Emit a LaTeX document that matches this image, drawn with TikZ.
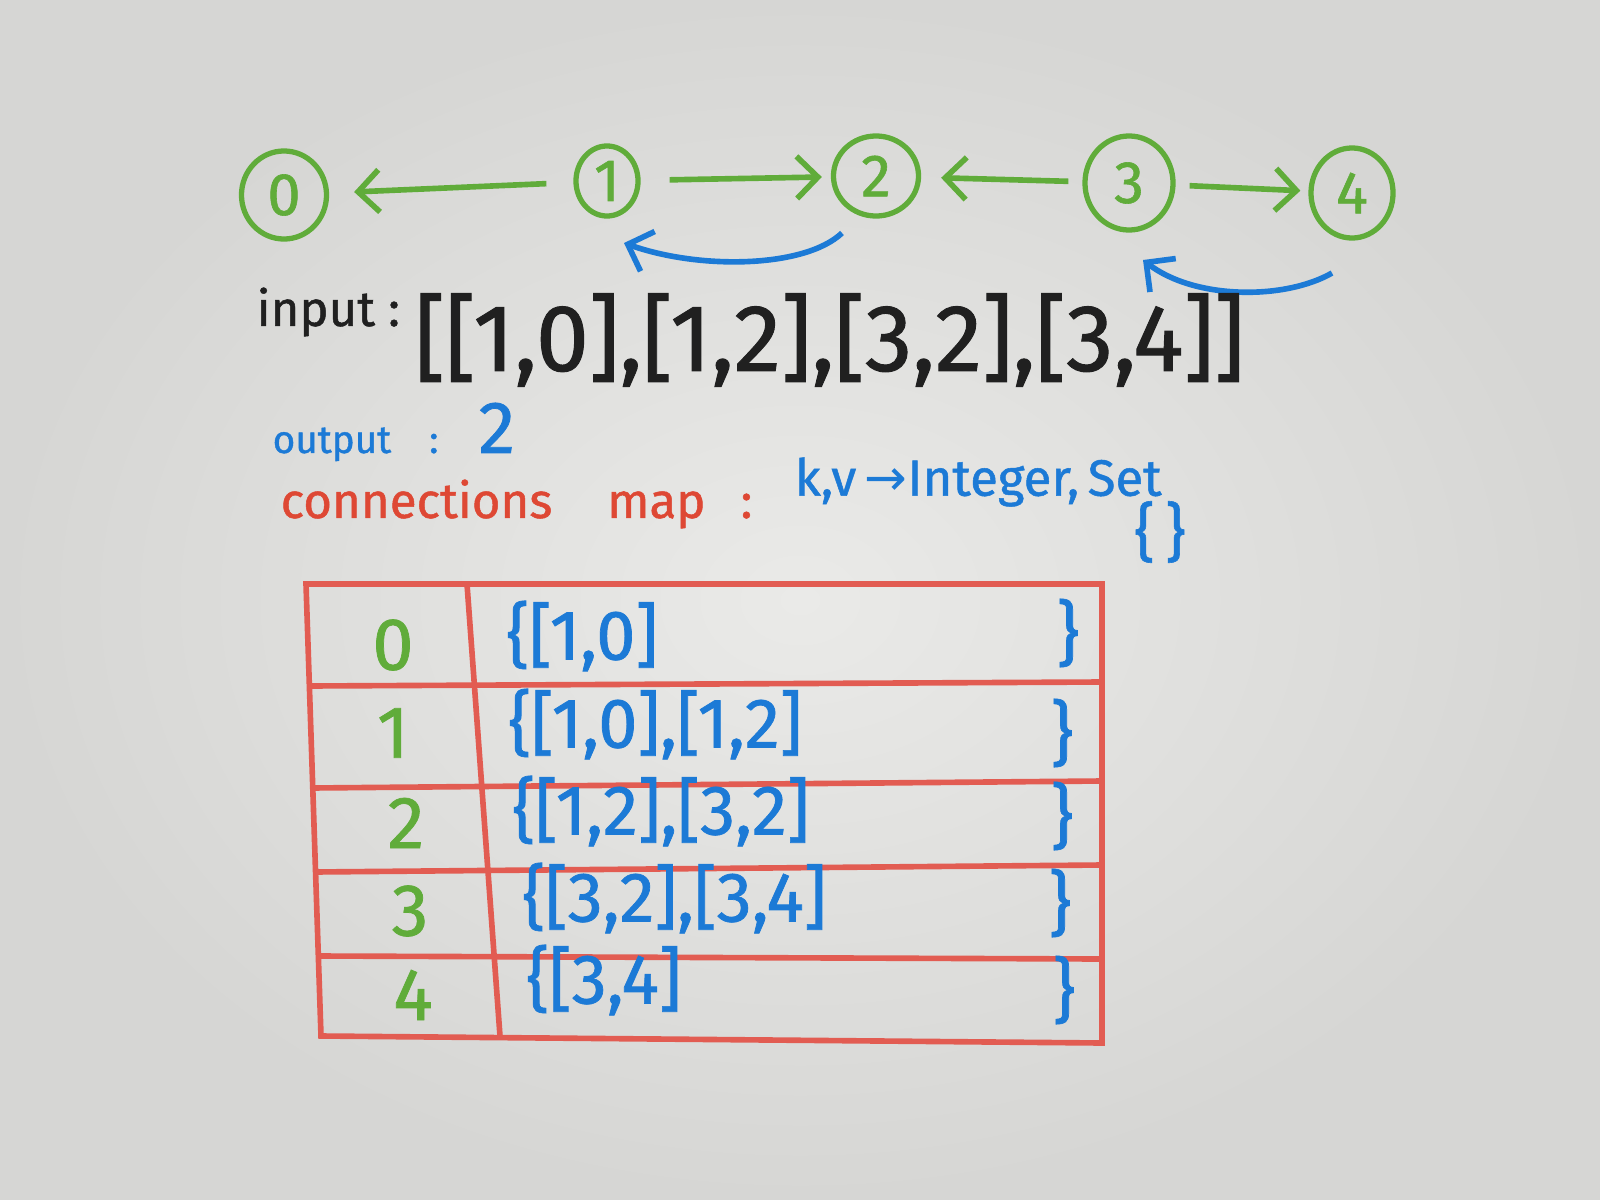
\documentclass[tikz,border=0pt]{standalone}
\usepackage{fontspec}
\setmainfont{Fira Sans}[FakeBold=1]
\newfontfamily\symfont{DejaVu Sans}
\usetikzlibrary{shapes.geometric,arrows.meta}
\definecolor{boardin}{RGB}{234,234,232}
\definecolor{boardout}{RGB}{214,214,212}
\definecolor{mgreen}{RGB}{96,172,58}
\definecolor{mblue}{RGB}{28,122,214}
\definecolor{mred}{RGB}{222,72,52}
\definecolor{tred}{RGB}{226,92,82}
\definecolor{mblack}{RGB}{32,32,32}
\tikzset{
  vert/.style={ellipse, draw=mgreen, line width=1.5pt, inner sep=0pt, text=mgreen,
    font=\fontsize{17}{20}\selectfont},
  garrow/.style={draw=mgreen, line width=1.6pt, -{Straight Barb[length=6pt,width=12pt]}},
  barrow/.style={draw=mblue, line width=1.6pt, -{Straight Barb[length=6pt,width=12pt]}},
  tline/.style={draw=tred, line width=1.6pt},
  txt/.style={inner sep=0pt, anchor=west},
  rowkey/.style={text=mgreen, font=\fontsize{21}{24}\selectfont},
  rowval/.style={text=mblue, anchor=west, font=\fontsize{20}{24}\selectfont},
  rowend/.style={text=mblue, font=\fontsize{20}{24}\selectfont},
}
\begin{document}
\begin{tikzpicture}[x=0.01cm,y=-0.01cm]
\useasboundingbox (0,0) rectangle (1600,1200);
\shade[inner color=boardin, outer color=boardout] (0,0) rectangle (1600,1200);

% graph
\node[vert, minimum width=0.85cm, minimum height=0.88cm] (c0) at (284,195) {0};
\node[vert, minimum width=0.62cm, minimum height=0.70cm] (c1) at (607,181) {1};
\node[vert, minimum width=0.85cm, minimum height=0.80cm] (c2) at (876,176) {2};
\node[vert, minimum width=0.88cm, minimum height=0.94cm] (c3) at (1129,183) {3};
\node[vert, minimum width=0.82cm, minimum height=0.90cm] (c4) at (1352,193) {4};

\draw[garrow, shorten <=0.27cm, shorten >=0.25cm] (c1) -- (c0);
\draw[garrow, shorten <=0.29cm, shorten >=0.09cm] (c1) -- (c2);
\draw[garrow, shorten <=0.14cm, shorten >=0.20cm] (c3) -- (c2);
\draw[garrow, shorten <=0.14cm, shorten >=0.08cm] (c3) -- (c4);

\coordinate (b1s) at (842,233);
\coordinate (b1e) at (624,243);
\coordinate (b2s) at (1332,273);
\coordinate (b2e) at (1143,260);
\draw[barrow] (b1s) .. controls (805,268) and (700,270) .. (b1e);
\draw[barrow] (b2s) .. controls (1285,300) and (1195,300) .. (b2e);

% texts
\node[txt, text=mblack, font=\fontsize{14}{17}\selectfont] (inlab) at (256,312) {input :};
\node[txt, text=mblack, font=\fontsize{27}{31}\selectfont] (inval) at (414,340) {[[1,0],[1,2],[3,2],[3,4]]};
\node[txt, text=mblue, font=\fontsize{11}{14}\selectfont] (outlab) at (272,432)
  {output\hspace{0.38cm}:\hspace{0.4cm}{\fontsize{21}{24}\selectfont 2}};
\node[txt, text=mred, font=\fontsize{14}{17}\selectfont] (maplab) at (280,504)
  {connections\hspace{0.55cm}map\hspace{0.35cm}:};
\node[txt, text=mblue, font=\fontsize{14.5}{17}\selectfont] (kv) at (794,482)
  {k,v\,{\symfont →}Integer,\,Set};
\node[text=mblue, inner sep=0pt, font=\fontsize{18}{21}\selectfont] (emptyset) at (1160,532) {\{\,\}};

% table
\draw[tline] (306,584) -- (1102,584) -- (1102,1043) -- (321,1036) -- cycle;
\draw[tline] (308,686) -- (1102,682);
\draw[tline] (311,788) -- (1102,781);
\draw[tline] (314,872) -- (1102,865);
\draw[tline] (318,956) -- (1102,959);
\draw[tline] (467,584) -- (500,1036);

\node[rowkey] (k0) at (393,645) {0};
\node[rowkey] (k1) at (393,733) {1};
\node[rowkey] (k2) at (406,823) {2};
\node[rowkey] (k3) at (410,911) {3};
\node[rowkey] (k4) at (413,995) {4};

\node[rowval] (v0) at (494,636) {\{[1,0]};
\node[rowval] (v1) at (496,724) {\{[1,0],[1,2]};
\node[rowval] (v2) at (500,811) {\{[1,2],[3,2]};
\node[rowval] (v3) at (510,898) {\{[3,2],[3,4]};
\node[rowval] (v4) at (514,980) {\{[3,4]};

\node[rowend] (e0) at (1068,633) {\}};
\node[rowend] (e1) at (1062,733) {\}};
\node[rowend] (e2) at (1062,816) {\}};
\node[rowend] (e3) at (1060,903) {\}};
\node[rowend] (e4) at (1064,990) {\}};
\end{tikzpicture}
\end{document}
